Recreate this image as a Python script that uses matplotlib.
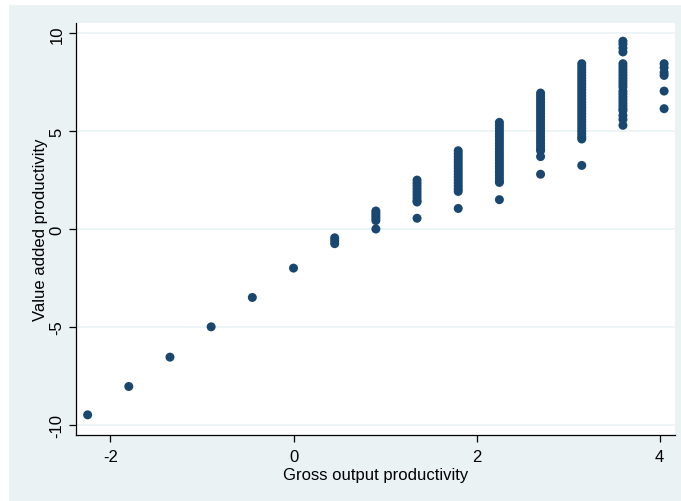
import matplotlib
matplotlib.use("Agg")
import matplotlib.pyplot as plt
from matplotlib.patches import Rectangle

# ---- data ----
col_x = [-2.25, -1.8, -1.35, -0.9, -0.45, 0.0, 0.45, 0.9, 1.35, 1.8, 2.25, 2.7, 3.15, 3.6, 4.05]

y_m225 = [-9.5]
y_m180 = [-8.05]
y_m135 = [-6.55]
y_m090 = [-5.0]
y_m045 = [-3.5]
y_000 = [-2.0]
y_045 = [-0.45, -0.6, -0.75]
y_090 = [0.92, 0.8, 0.68, 0.56, 0.43, 0.0]
y_135 = [2.5, 2.35, 2.2, 2.05, 1.9, 1.75, 1.6, 1.45, 1.38, 0.55]
y_180 = [4.0, 3.85, 3.7, 3.55, 3.4, 3.25, 3.1, 2.95, 2.8, 2.65, 2.5, 2.35,
         2.2, 2.05, 1.92, 1.05]
y_225 = [5.45, 5.3, 5.15, 5.0, 4.85, 4.7, 4.55, 4.4, 4.25, 4.1, 3.95, 3.8,
         3.65, 3.5, 3.35, 3.2, 3.05, 2.9, 2.75, 2.6, 2.45, 2.38, 1.5]
y_270 = [6.95, 6.8, 6.65, 6.5, 6.35, 6.2, 6.05, 5.9, 5.75, 5.6, 5.45, 5.3,
         5.15, 5.0, 4.85, 4.7, 4.55, 4.4, 4.25, 4.1, 4.0, 3.7, 2.8]
y_315 = [8.45, 8.3, 8.15, 8.0, 7.85, 7.7, 7.55, 7.4, 7.25, 7.1, 6.95, 6.8,
         6.65, 6.5, 6.35, 6.2, 6.05, 5.9, 5.75, 5.6, 5.45, 5.3, 5.15, 5.0,
         4.85, 4.7, 4.6, 3.25]
y_360 = [9.6, 9.45, 9.25, 9.05, 8.45, 8.3, 8.15, 8.0, 7.85, 7.7, 7.55, 7.4,
         7.25, 7.05, 6.9, 6.75, 6.6, 6.45, 6.3, 6.15, 6.05, 5.8, 5.6, 5.3]
y_405 = [8.45, 8.25, 8.0, 7.85, 7.05, 6.15]

columns = [y_m225, y_m180, y_m135, y_m090, y_m045, y_000, y_045, y_090,
           y_135, y_180, y_225, y_270, y_315, y_360, y_405]

x_ticks = [-2, 0, 2, 4]
y_ticks = [-10, -5, 0, 5, 10]
x_label = "Gross output productivity"
y_label = "Value added productivity"

# ---- style ----
BG = "#EAF2F3"
NAVY = "#1A476F"
plt.rcParams['font.family'] = ['Liberation Sans', 'DejaVu Sans']
plt.rcParams['axes.unicode_minus'] = False

W, H = 681, 502
fig = plt.figure(figsize=(W / 100, H / 100), dpi=100, facecolor="white")
fig.patches.append(Rectangle((9 / W, 0), 1 - 9 / W, 1 - 6 / H,
                             transform=fig.transFigure, facecolor=BG,
                             edgecolor="none", zorder=-10))

ax = fig.add_axes([76 / W, (H - 436) / H, (675 - 76) / W, (436 - 24) / H])
ax.set_facecolor("white")

xs, ys = [], []
for cx, vals in zip(col_x, columns):
    for v in vals:
        xs.append(cx)
        ys.append(v)
ax.scatter(xs, ys, s=42, color=NAVY, edgecolors="none", zorder=3)

ax.set_xlim(-2.377, 4.169)
ax.set_ylim(-10.53, 10.53)
ax.set_xticks(x_ticks)
ax.set_yticks(y_ticks)
ax.set_xticklabels([str(t) for t in x_ticks])
ax.set_yticklabels([str(t) for t in y_ticks], rotation=90, va="center")

ax.grid(axis="y", color=BG, linewidth=1.2, zorder=0)
ax.set_axisbelow(True)

for side in ("top", "right"):
    ax.spines[side].set_visible(False)
for side in ("left", "bottom"):
    ax.spines[side].set_color("black")
    ax.spines[side].set_linewidth(0.9)

ax.tick_params(axis="both", direction="out", length=5.2, width=0.9,
               color="black", labelsize=12, labelcolor="black")
ax.tick_params(axis="x", pad=5)
ax.tick_params(axis="y", pad=3)

ax.set_xlabel(x_label, fontsize=12, labelpad=2)
ax.set_ylabel(y_label, fontsize=12, labelpad=1)

fig.savefig("out.png", dpi=100, facecolor=fig.get_facecolor())
